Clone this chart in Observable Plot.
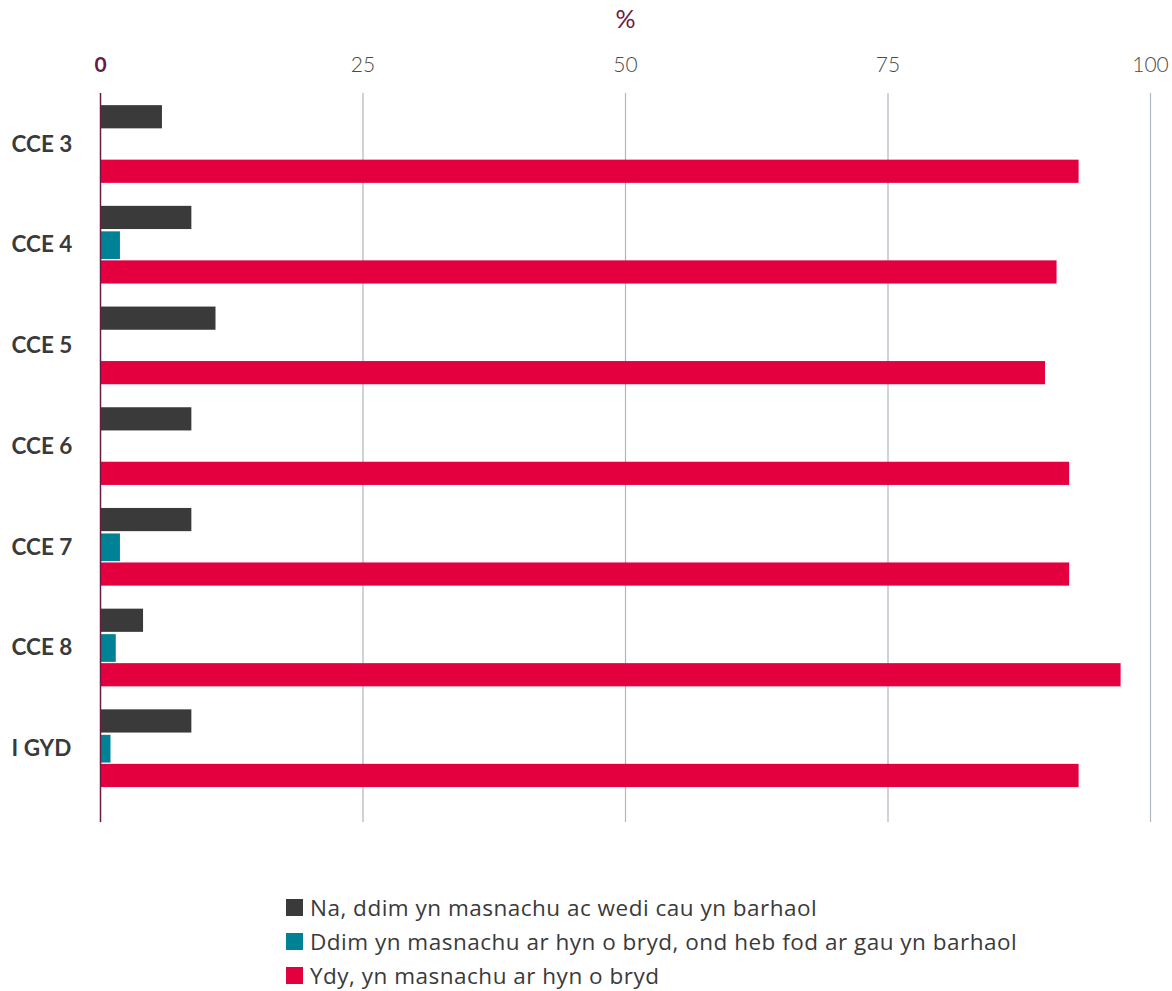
<!DOCTYPE html>
<html>
<head>
<meta charset="utf-8">
<script src="https://cdn.jsdelivr.net/npm/d3@7"></script>
<script src="https://cdn.jsdelivr.net/npm/@observablehq/plot@0.6"></script>
<style>
  html, body { margin: 0; padding: 0; background: #fff; }
  body { width: 1172px; height: 991px; font-family: Lato, "Open Sans", sans-serif; }
  #chart svg { display: block; }
  .legend { position: absolute; left: 286px; top: 890px; }
  .legend .item { display: flex; align-items: center; height: 34px; font-family: "Open Sans", sans-serif; font-size: 22.5px; letter-spacing: 0.5px; color: #3a3a3a; font-weight: 400; }
  .legend .sw { width: 17px; height: 17px; margin-right: 7px; flex: none; }
</style>
</head>
<body>
<div id="chart"></div>
<div class="legend" id="legend"></div>
<script>
const categories = ["CCE 3", "CCE 4", "CCE 5", "CCE 6", "CCE 7", "CCE 8", "I GYD"];
const seriesNames = [
  "Na, ddim yn masnachu ac wedi cau yn barhaol",
  "Ddim yn masnachu ar hyn o bryd, ond heb fod ar gau yn barhaol",
  "Ydy, yn masnachu ar hyn o bryd"
];
const seriesColors = ["#3a3a3a", "#008296", "#e4003f"];
const closedValues = [5.9, 8.7, 11.0, 8.7, 8.7, 4.1, 8.7];
const pausedValues = [0, 1.9, 0, 0, 1.9, 1.5, 1.0];
const tradingValues = [93.2, 91.1, 90.0, 92.3, 92.3, 97.2, 93.2];
const xTicks = [0, 25, 50, 75, 100];
const xLabel = "%";

const seriesValues = [closedValues, pausedValues, tradingValues];
const rows = seriesValues.map((vals, s) => categories.map((c, i) => ({cat: c, value: vals[i], series: seriesNames[s]})));

const maroon = "#6b1a43";
const W = 1172, H = 860;
const mTop = 93, mBottom = 38;
const step = 100.7;
const yTop = 144 - step / 2;

// per-series insets within each category band (px)
const insets = [
  {top: 11.5, bottom: 66},
  {top: 37, bottom: 36},
  {top: 66, bottom: 11.5}
];

const chart = Plot.plot({
  width: W,
  height: H,
  marginLeft: 100,
  marginRight: 22,
  marginTop: mTop,
  marginBottom: mBottom,
  style: {fontFamily: "Lato, 'Open Sans', sans-serif", background: "#fff", overflow: "visible"},
  x: {domain: [0, 100], axis: null},
  y: {domain: categories, range: [yTop, yTop + step * categories.length], padding: 0, round: false, axis: null},
  marks: [
    Plot.ruleX(xTicks.filter(d => d > 0), {stroke: "#aeb6bf", strokeWidth: 1.2, strokeOpacity: 1}),
    ...rows.map((data, s) => Plot.barX(data, {
      x: "value", y: "cat", fill: seriesColors[s],
      insetTop: insets[s].top, insetBottom: insets[s].bottom
    })),
    Plot.ruleX([0], {stroke: maroon, strokeWidth: 1.5}),
    Plot.text(xTicks.filter(d => d > 0), {
      x: d => d, text: d => String(d), frameAnchor: "top", lineAnchor: "middle", dy: -28,
      fill: "#4a4a4a", fontWeight: 300, fontSize: 21
    }),
    Plot.text(xTicks.filter(d => d === 0), {
      x: d => d, text: d => String(d), frameAnchor: "top", lineAnchor: "middle", dy: -28,
      fill: maroon, fontWeight: 700, fontSize: 21
    }),
    Plot.text([xLabel], {
      x: 50, text: d => d, frameAnchor: "top", lineAnchor: "middle", dy: -74,
      fill: maroon, fontSize: 25, fontWeight: 400
    }),
    Plot.text(categories, {
      y: d => d, text: d => d, frameAnchor: "left", dx: -89, textAnchor: "start",
      fill: "#3a3a3a", fontSize: 22.5, fontWeight: 700
    })
  ]
});
document.getElementById("chart").appendChild(chart);

const legend = document.getElementById("legend");
seriesNames.forEach((name, i) => {
  const item = document.createElement("div");
  item.className = "item";
  const sw = document.createElement("span");
  sw.className = "sw";
  sw.style.background = seriesColors[i];
  const t = document.createElement("span");
  t.textContent = name;
  item.appendChild(sw);
  item.appendChild(t);
  legend.appendChild(item);
});
</script>
</body>
</html>
